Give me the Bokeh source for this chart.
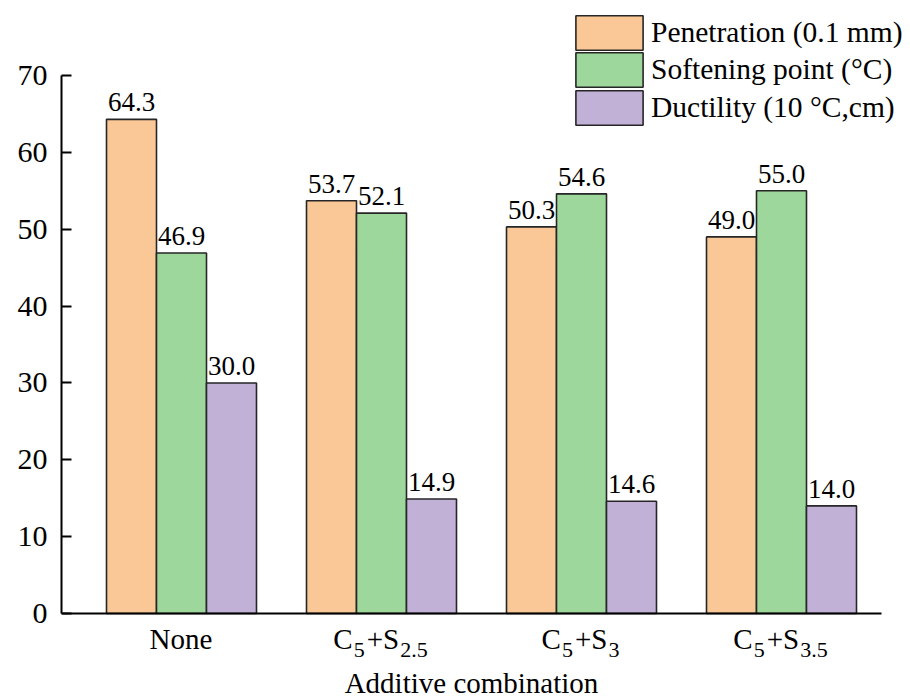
from bokeh.plotting import figure
from bokeh.models import Range1d, FixedTicker, Legend, LegendItem, ColumnDataSource
from bokeh.core.properties import value
from bokeh.embed import file_html
from bokeh.resources import INLINE

# ---------------- data ----------------
categories = ["None", "C5+S2.5", "C5+S3", "C5+S3.5"]
penetration = [64.3, 53.7, 50.3, 49.0]
softening = [46.9, 52.1, 54.6, 55.0]
ductility = [30.0, 14.9, 14.6, 14.0]
series_names = ["Penetration (0.1 mm)", "Softening point (\u00b0C)", "Ductility (10 \u00b0C,cm)"]
y_ticks = [0, 10, 20, 30, 40, 50, 60, 70]
# label pieces: (text, is_subscript)
cat_parts = [
    [("None", False)],
    [("C", False), ("5", True), ("+S", False), ("2.5", True)],
    [("C", False), ("5", True), ("+S", False), ("3", True)],
    [("C", False), ("5", True), ("+S", False), ("3.5", True)],
]
x_title = "Additive combination"

colors = ["#FAC896", "#9DD79B", "#C2B1D7"]
FONT = "Liberation Serif"
BIG = 29
SUB = 22

p = figure(width=908, height=700, output_backend="svg", toolbar_location=None,
           x_range=Range1d(0.4, 4.62), y_range=Range1d(-11.32, 78.46),
           min_border_left=61, min_border_right=3, min_border_top=10, min_border_bottom=0)
p.outline_line_color = None
p.xgrid.visible = False
p.ygrid.visible = False
p.background_fill_color = "white"

xs = [i + 1 for i in range(len(categories))]
width = 0.25
offsets = [-0.25, 0.0, 0.25]
series = [penetration, softening, ductility]
renderers = []
for vals, off, col in zip(series, offsets, colors):
    src = ColumnDataSource(dict(x=[x + off for x in xs], top=vals,
                                lab=["%.1f" % v for v in vals]))
    r = p.vbar(x="x", top="top", width=width, source=src, fill_color=col,
               line_color="#262626", line_width=1.6)
    renderers.append(r)
    p.text(x="x", y="top", text="lab", source=src, text_align="center",
           text_baseline="alphabetic", y_offset=-17,
           text_font=value(FONT), text_font_size="27px", text_color="black")

# axes
yax = p.yaxis[0]
yax.ticker = FixedTicker(ticks=y_ticks)
yax.bounds = (0, 70)
yax.major_tick_in = 10
yax.major_tick_out = 0
yax.minor_tick_line_color = None
yax.axis_line_width = 2
yax.major_tick_line_width = 2
yax.axis_line_color = "black"
yax.major_tick_line_color = "black"
yax.major_label_text_font = FONT
yax.major_label_text_font_size = "30px"
yax.major_label_text_color = "black"
yax.major_label_standoff = 14

xax = p.xaxis[0]
xax.ticker = FixedTicker(ticks=[])
xax.fixed_location = 0
xax.bounds = (0.4, 4.5)
xax.axis_line_width = 2
xax.axis_line_color = "black"
xax.major_tick_line_color = None
xax.minor_tick_line_color = None
xax.major_tick_out = 0
xax.major_tick_in = 0
xax.major_label_standoff = 0

# category labels with subscripts (text pieces)
W = {"C": 0.667, "+": 0.564, "S": 0.556, ".": 0.25, "N": 0.722, "o": 0.5, "n": 0.5, "e": 0.444}
def tw(s, size):
    return sum(W.get(ch, 0.5) for ch in s) * size

lx, ly, lt, lxo, lyo, lfs = [], [], [], [], [], []
for xc, parts in zip(xs, cat_parts):
    widths = [tw(t, SUB if sub else BIG) + (2 if sub else 1) for t, sub in parts]
    cur = -sum(widths) / 2
    for (t, sub), w in zip(parts, widths):
        lx.append(xc); ly.append(0); lt.append(t)
        lxo.append(cur); lyo.append(36 if sub else 25)
        lfs.append("%dpx" % (SUB if sub else BIG))
        cur += w
cat_src = ColumnDataSource(dict(x=lx, y=ly, t=lt, xo=lxo, yo=lyo, fs=lfs))
p.text(x="x", y="y", text="t", x_offset="xo", y_offset="yo", text_font_size="fs",
       source=cat_src, text_align="left", text_baseline="alphabetic",
       text_font=value(FONT), text_color="black")

title_src = ColumnDataSource(dict(x=[sum(xax.bounds) / 2], y=[0], t=[x_title]))
p.text(x="x", y="y", text="t", source=title_src, y_offset=69, text_align="center",
       text_baseline="alphabetic", text_font=value(FONT), text_font_size="29px",
       text_color="black")

# legend: one single-item legend per series so rows can sit closer than the glyph area
GH = 43
STEP = 37.5
frame_h = 690
for i, (n, r) in enumerate(zip(series_names, renderers)):
    top = 0.7 + i * STEP  # glyph-area top, px below frame top
    leg = Legend(items=[LegendItem(label=n, renderers=[r])],
                 location=(506, frame_h - top - GH), glyph_width=84, glyph_height=GH,
                 label_standoff=0, padding=0, margin=0, border_line_color=None,
                 background_fill_alpha=0, label_text_font=FONT, label_text_font_size="29.5px",
                 label_text_color="black", label_height=30)
    p.add_layout(leg, "center")

open("out.html", "w").write(file_html(p, INLINE))
